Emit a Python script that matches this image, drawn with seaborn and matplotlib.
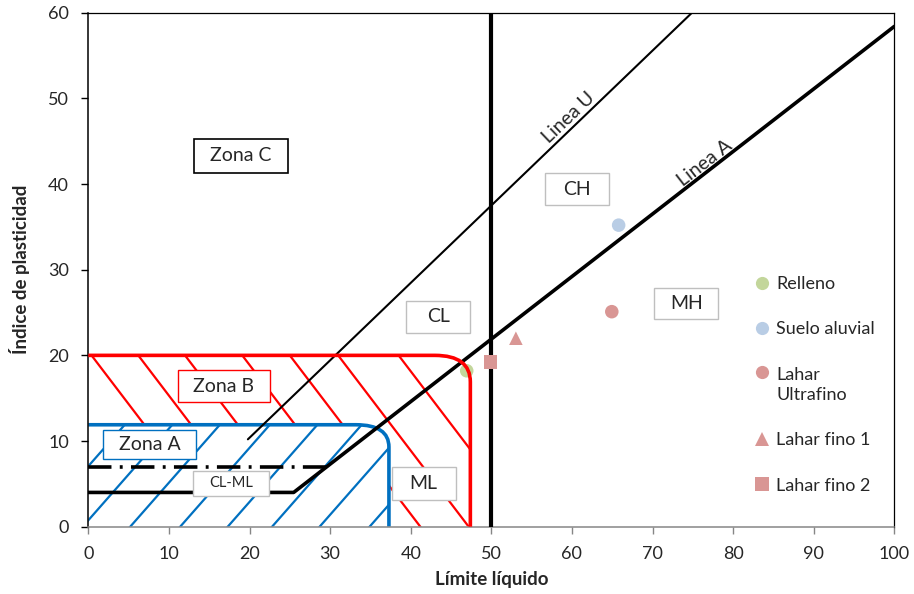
import numpy as np
import pandas as pd
import matplotlib
matplotlib.use("Agg")
import matplotlib.pyplot as plt
import seaborn as sns
from matplotlib.path import Path
from matplotlib.patches import PathPatch
from matplotlib.collections import LineCollection
from matplotlib.lines import Line2D
from matplotlib.legend_handler import HandlerLine2D
from matplotlib.transforms import Affine2D

# ---------------- data ----------------
series = ["Relleno", "Suelo aluvial", "Lahar Ultrafino", "Lahar fino 1", "Lahar fino 2"]
legend_labels = ["Relleno", "Suelo aluvial", "Lahar\nUltrafino", "Lahar fino 1", "Lahar fino 2"]
limite_liquido = [46.95, 65.8, 64.95, 53.05, 49.9]
indice_plasticidad = [18.2, 35.2, 25.1, 22.0, 19.2]
point_colors = ["#C3D69B", "#B9CDE5", "#D99694", "#D99694", "#D99694"]
point_markers = ["o", "o", "o", "^", "s"]

# chart reference lines (LL, PI)
a_line_ll = [0, 25.48, 100]
a_line_pi = [4, 4, 58.4]
u_line_ll = [19.8, 74.9]
u_line_pi = [10.2, 60]
dashdot_ll = [0, 29.6]
dashdot_pi = [7, 7]
ll50_ll = [50, 50]
ll50_pi = [0, 60]

# zone boundaries (top edge, rounded corner, right edge)
zone_b_ll = [0, 43.0, 47.4, 47.4, 47.4]
zone_b_pi = [20, 20, 20, 16.9, 0]
zone_a_ll = [0, 33.2, 37.3, 37.3, 37.3]
zone_a_pi = [11.9, 11.9, 11.9, 9.3, 0]

# hatch line anchors
red_hatch_ll = [0.4, 6.2, 12.0, 19.1, 25.0, 31.0, 38.5]   # at PI = 20
red_hatch_slope = -1.235
blue_hatch_ll = [-6.6, -0.7, 5.2, 11.4, 17.3, 22.8, 28.7, 34.9]  # at PI = 0
blue_hatch_slope = 1.07

# text labels
zone_labels = ["Zona C", "CH", "CL", "MH", "ML", "CL-ML", "Zona B", "Zona A"]
zone_label_ll = [18.9, 60.6, 43.4, 74.2, 41.6, 17.7, 16.8, 7.6]
zone_label_pi = [43.3, 39.4, 24.5, 26.0, 5.1, 5.07, 16.4, 9.6]
zone_label_box = [(94, 34), (64, 32), (64, 32), (64, 31), (64, 33), (76, 25), (92, 32), (93, 29)]
zone_label_edge = ["black", "#BFBFBF", "#BFBFBF", "#BFBFBF", "#BFBFBF", "#BFBFBF", "#FF0000", "#0070C0"]
zone_label_size = [14, 14, 14, 14, 14, 10.5, 14, 14]

df = pd.DataFrame({"Serie": series, "LL": limite_liquido, "IP": indice_plasticidad})

# ---------------- style ----------------
sns.set_style("white")
plt.rcParams["font.family"] = ["Lato", "DejaVu Sans"]

fig = plt.figure(figsize=(9.14, 5.94), dpi=100)
ax = fig.add_axes([88.3 / 914, 1 - 526.7 / 594, 806 / 914, 514 / 594])
ax.set_xlim(0, 100)
ax.set_ylim(0, 60)

RED = "#FF0000"
BLUE = "#0070C0"


def boundary_path(ll, pi):
    v = list(zip(ll, pi))
    codes = [Path.MOVETO, Path.LINETO, Path.CURVE3, Path.CURVE3, Path.LINETO]
    return Path(v, codes)


def region_path(ll, pi):
    v = [(0, 0)] + list(zip(ll, pi)) + [(0, 0)]
    codes = [Path.MOVETO, Path.LINETO, Path.LINETO, Path.CURVE3, Path.CURVE3,
             Path.LINETO, Path.CLOSEPOLY]
    return Path(v, codes)


def signed_area(p):
    x, y = p[:, 0], p[:, 1]
    return 0.5 * np.sum(x * np.roll(y, -1) - np.roll(x, -1) * y)


region_b = region_path(zone_b_ll, zone_b_pi)
region_a = region_path(zone_a_ll, zone_a_pi)
poly_b = region_b.to_polygons()[0]
poly_a = region_a.to_polygons()[0]
poly_a_rev = poly_a[::-1] if np.sign(signed_area(poly_b)) == np.sign(signed_area(poly_a)) else poly_a
clip_red = Path.make_compound_path(Path(poly_b, closed=True), Path(poly_a_rev, closed=True))
clip_blue = Path(poly_a, closed=True)

clip_red_patch = PathPatch(clip_red, transform=ax.transData, facecolor="none", edgecolor="none")
clip_blue_patch = PathPatch(clip_blue, transform=ax.transData, facecolor="none", edgecolor="none")
ax.add_patch(clip_red_patch)
ax.add_patch(clip_blue_patch)

# hatch lines (infinite lines clipped to their zone)
red_segs = [[(t + (25 - 20) / red_hatch_slope, 25), (t + (-5 - 20) / red_hatch_slope, -5)]
            for t in red_hatch_ll]
red_lc = LineCollection(red_segs, colors=RED, linewidths=1.6, zorder=1.5)
ax.add_collection(red_lc)
red_lc.set_clip_path(clip_red_patch)

blue_segs = [[(b + (-5) / blue_hatch_slope, -5), (b + 25 / blue_hatch_slope, 25)]
             for b in blue_hatch_ll]
blue_lc = LineCollection(blue_segs, colors=BLUE, linewidths=1.6, zorder=1.6)
ax.add_collection(blue_lc)
blue_lc.set_clip_path(clip_blue_patch)

# zone A boundary
ax.add_patch(PathPatch(boundary_path(zone_a_ll, zone_a_pi), facecolor="none",
                       edgecolor=BLUE, lw=2.6, zorder=2.5, capstyle="butt"))

# black lines
sns.lineplot(x=a_line_ll, y=a_line_pi, ax=ax, color="black", lw=2.6, zorder=3,
             sort=False, estimator=None)
sns.lineplot(x=u_line_ll, y=u_line_pi, ax=ax, color="black", lw=1.5, zorder=3,
             sort=False, estimator=None)
ax.plot(dashdot_ll, dashdot_pi, color="black", lw=2.6, zorder=3,
        dashes=(6.5, 2.3, 0.8, 2.3), dash_capstyle="butt")
sns.lineplot(x=ll50_ll, y=ll50_pi, ax=ax, color="black", lw=3.0, zorder=3,
             sort=False, estimator=None)

# points
palette = dict(zip(series, point_colors))
markers = dict(zip(series, point_markers))
sns.scatterplot(data=df, x="LL", y="IP", hue="Serie", style="Serie", palette=palette,
                markers=markers, s=95, linewidth=0, ax=ax, legend=False, zorder=4)

# zone B boundary
ax.add_patch(PathPatch(boundary_path(zone_b_ll, zone_b_pi), facecolor="none",
                       edgecolor=RED, lw=2.6, zorder=4.5, capstyle="butt"))


# label boxes of fixed pixel size
def fixed_box(wpx, hpx):
    def style(x0, y0, width, height, mutation_size):
        cx = x0 + width / 2.0
        cy = y0 + height / 2.0
        return Path([(cx - wpx / 2, cy - hpx / 2), (cx + wpx / 2, cy - hpx / 2),
                     (cx + wpx / 2, cy + hpx / 2), (cx - wpx / 2, cy + hpx / 2),
                     (cx - wpx / 2, cy - hpx / 2)], closed=True)
    return style


for lab, x, y, (w, h), ec, fs in zip(zone_labels, zone_label_ll, zone_label_pi,
                                      zone_label_box, zone_label_edge, zone_label_size):
    ax.text(x, y, lab, ha="center", va="center", fontsize=fs, zorder=6,
            bbox=dict(boxstyle=fixed_box(w, h), facecolor="white", edgecolor=ec,
                      linewidth=1.0 if ec != "black" else 1.2))

# line names
ax.text(60.3, 47.0, "Linea U", rotation=np.degrees(np.arctan(0.9)), transform_rotates_text=True,
        rotation_mode="anchor", ha="center", va="bottom", fontsize=14, zorder=6)
ax.text(77.2, 41.7, "Linea A", rotation=np.degrees(np.arctan(0.73)), transform_rotates_text=True,
        rotation_mode="anchor", ha="center", va="bottom", fontsize=14, zorder=6)

# axes styling
ax.set_xticks(np.arange(0, 101, 10))
ax.set_yticks(np.arange(0, 61, 10))
ax.tick_params(axis="x", direction="out", length=5, width=1, color="#868686",
               labelsize=13, pad=9)
ax.tick_params(axis="y", direction="out", length=5, width=1, color="black",
               labelsize=13, pad=9)
ax.tick_params(bottom=True, left=True)
for s in ["top", "right"]:
    ax.spines[s].set_color("black")
    ax.spines[s].set_linewidth(0.9)
ax.spines["left"].set_color("black")
ax.spines["left"].set_linewidth(1.1)
ax.spines["bottom"].set_color("#868686")
ax.spines["bottom"].set_linewidth(1.1)

ax.set_xlabel("Límite líquido", fontsize=13.5, fontweight="bold")
ax.set_ylabel("Índice de plasticidad", fontsize=13.5, fontweight="bold")
ax.xaxis.set_label_coords(0.5, -0.086)
ax.yaxis.set_label_coords(-0.072, 0.5)


# legend: marker aligned with the first line of a two-line label
class HandlerFirstLine(HandlerLine2D):
    def __init__(self, shift, **kw):
        super().__init__(**kw)
        self.shift = shift

    def create_artists(self, legend, orig_handle, xdescent, ydescent, width, height,
                       fontsize, trans):
        arts = super().create_artists(legend, orig_handle, xdescent, ydescent, width,
                                      height, fontsize, trans)
        for a in arts:
            a.set_transform(Affine2D().translate(0, self.shift) + trans)
        return arts


handles = [Line2D([], [], marker=m, color=c, linestyle="none", markersize=9.5,
                  markeredgewidth=0) for m, c in zip(point_markers, point_colors)]
leg_fs = 13
leg = ax.legend(handles, legend_labels,
                handler_map={handles[2]: HandlerFirstLine(0.72 * leg_fs, numpoints=1)},
                loc="upper left", bbox_to_anchor=(753 / 914, 1 - 276 / 594),
                bbox_transform=fig.transFigure, frameon=False, fontsize=leg_fs,
                handlelength=1.0, handletextpad=0.3, labelspacing=1.62,
                borderpad=0, borderaxespad=0, numpoints=1)
for t in leg.get_texts():
    t.set_linespacing(1.35)
leg.set_zorder(7)

fig.savefig("out.png", dpi=100)
